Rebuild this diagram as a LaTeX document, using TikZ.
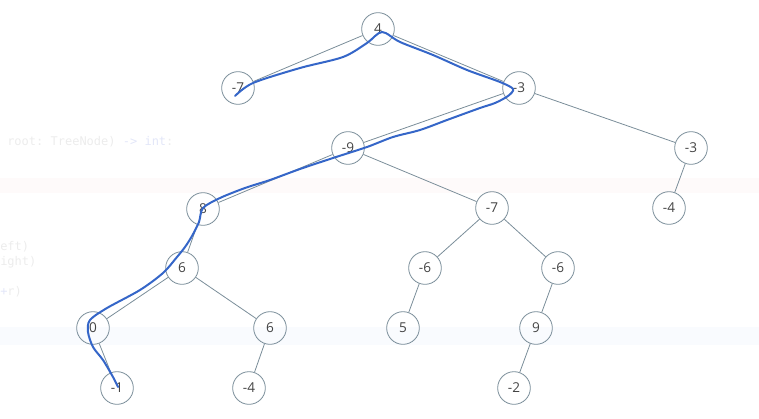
\documentclass[tikz,border=0pt]{standalone}
\usepackage{fontspec}
\setmainfont{Open Sans}
\setmonofont{DejaVu Sans Mono}
\definecolor{edge}{HTML}{7A8D99}
\definecolor{lbl}{HTML}{444444}
\definecolor{pen}{HTML}{3566C8}
\definecolor{ghost}{HTML}{ECECEC}
\definecolor{ghostblue}{HTML}{E2E6F8}
\definecolor{bandpink}{HTML}{FEFAFA}
\definecolor{bandblue}{HTML}{F9FBFE}
\usetikzlibrary{positioning}

\begin{document}
\begin{tikzpicture}[
  x=0.75pt, y=-0.75pt,
  tnode/.style={circle, draw=edge, line width=0.6pt, minimum size=24.5pt, inner sep=0pt, font=\fontsize{10.2}{12}\selectfont, text=lbl},
  link/.style={draw=edge, line width=0.6pt},
  ghosttext/.style={anchor=west, inner sep=0pt, font=\ttfamily\fontsize{9}{10}\selectfont, text=ghost},
]
\useasboundingbox (0,0) rectangle (759,418);

% Editor behind
\fill[bandpink] (0,178) rectangle (759,193);
\fill[bandblue] (0,327) rectangle (759,345);
\node[ghosttext] (sig) at (7,142) {root: TreeNode) {\color{ghostblue}->} {\color{ghostblue}int}:};
\node[ghosttext] (lft) at (0,247) {eft)};
\node[ghosttext] (rgt) at (0,262) {ight)};
\node[ghosttext] (sum) at (0,292) {{\color{ghostblue}+}r)};

% Tree
\node[tnode] (root) at (378,29) {4};
\node[tnode] (l) at (238,88) {-7};
\node[tnode] (r) at (519,88) {-3};
\node[tnode] (rl) at (348,148) {-9};
\node[tnode] (rr) at (691,148) {-3};
\node[tnode] (rll) at (203,209) {8};
\node[tnode] (rlr) at (492,208) {-7};
\node[tnode] (rrl) at (669,208) {-4};
\node[tnode] (rllr) at (182,268) {6};
\node[tnode] (rlrl) at (425,268) {-6};
\node[tnode] (rlrr) at (558,268) {-6};
\node[tnode] (rllrl) at (93,328) {0};
\node[tnode] (rllrr) at (270,328) {6};
\node[tnode] (rlrll) at (403,328) {5};
\node[tnode] (rlrrl) at (536,328) {9};
\node[tnode] (rllrll) at (117,388) {-1};
\node[tnode] (rllrrl) at (249,388) {-4};
\node[tnode] (rlrrll) at (514,388) {-2};

\foreach \a/\b in {root/l,root/r,r/rl,r/rr,rl/rll,rl/rlr,rr/rrl,rll/rllr,rlr/rlrl,rlr/rlrr,
                   rllr/rllrl,rllr/rllrr,rlrl/rlrll,rlrr/rlrrl,rllrl/rllrll,rllrr/rllrrl,rlrrl/rlrrll}
  \draw[link] (\a) -- (\b);

% Pen stroke
\draw[pen, line width=1.5pt, line cap=round, line join=round] plot[smooth, tension=0.5] coordinates {
  (235,96) (253,83) (300,68) (343,57) (367,43) (382,32) (400,42) (433,55) (467,70) (500,82)
  (513,89) (508,96) (495,103) (480,108) (447,120) (420,130) (393,137) (367,147) (333,158)
  (300,169) (270,180) (245,188) (220,198) (203,208) (199,222) (192,236) (185,247) (177,257)
  (163,273) (140,290) (107,308) (90,320) (88,332) (93,347) (103,360) (113,377) (118,387)};
\end{tikzpicture}
\end{document}
